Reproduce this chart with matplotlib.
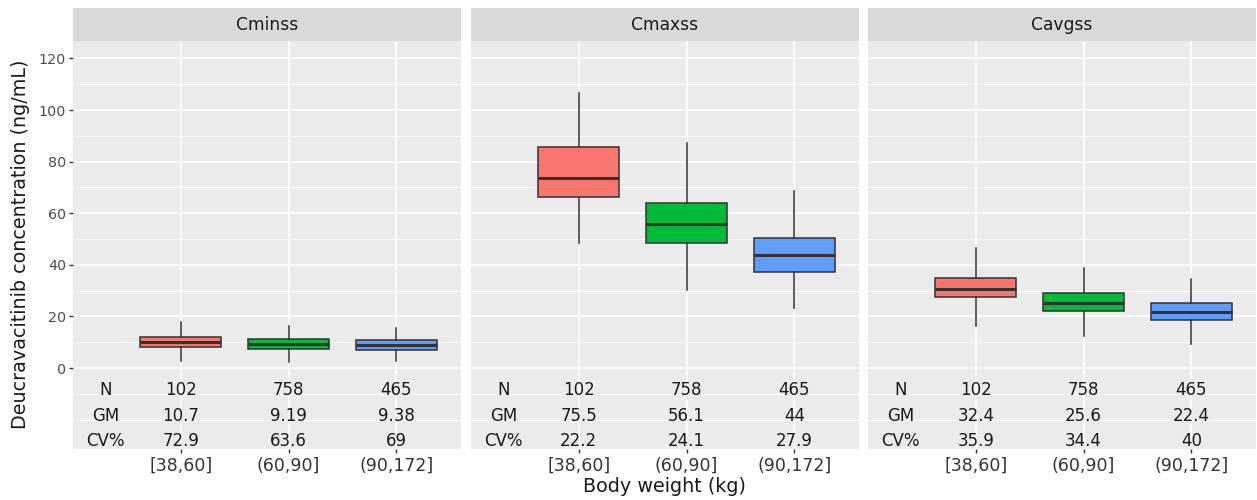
import matplotlib.pyplot as plt
import numpy as np

# body weight groups and the three exposure metrics
groups = ["[38,60]", "(60,90]", "(90,172]"]
metrics = ["Cminss", "Cmaxss", "Cavgss"]
fills = ["#F8766D", "#00BA38", "#619CFF"]

# box statistics per group: lower whisker, q1, median, q3, upper whisker
cminss_box = [[2.8, 8.3, 10.1, 12.1, 17.9],
              [2.4, 7.4, 9.2, 11.2, 16.3],
              [2.7, 7.1, 8.9, 10.9, 15.6]]
cmaxss_box = [[48.6, 66.4, 73.5, 85.5, 106.5],
              [30.2, 48.6, 55.9, 64.1, 87.1],
              [23.1, 37.3, 43.9, 50.3, 68.7]]
cavgss_box = [[16.4, 27.5, 30.6, 35.1, 46.4],
              [12.4, 22.0, 25.2, 29.0, 38.9],
              [9.3, 18.6, 21.7, 25.1, 34.5]]

# summary table under each panel
n_obs = [102, 758, 465]
cminss_gm = [10.7, 9.19, 9.38]
cmaxss_gm = [75.5, 56.1, 44]
cavgss_gm = [32.4, 25.6, 22.4]
cminss_cv = [72.9, 63.6, 69]
cmaxss_cv = [22.2, 24.1, 27.9]
cavgss_cv = [35.9, 34.4, 40]

boxes = [cminss_box, cmaxss_box, cavgss_box]
gms = [cminss_gm, cmaxss_gm, cavgss_gm]
cvs = [cminss_cv, cmaxss_cv, cavgss_cv]

W, H = 1257, 500
fig = plt.figure(figsize=(W / 100, H / 100), dpi=100)

panel_left = [73, 471, 868]
panel_w = 388
p_top, p_bot = 40.7, 449.3
s_top = 8.3

edge = "#333333"
pos = np.arange(1, len(groups) + 1)

for k, metric in enumerate(metrics):
    x0 = panel_left[k] / W
    ax = fig.add_axes([x0, 1 - p_bot / H, panel_w / W, (p_bot - p_top) / H])
    ax.set_facecolor("#EBEBEB")
    for s in ax.spines.values():
        s.set_visible(False)

    ax.set_xlim(0, 3.6)
    ax.set_ylim(-31.5, 126.9)

    # grid: white major/minor lines like ggplot's grey theme
    for y in range(0, 121, 20):
        ax.axhline(y, color="white", lw=1.1, zorder=0)
    for y in [-20, -10, 10, 30, 50, 70, 90, 110]:
        ax.axhline(y, color="white", lw=0.6, zorder=0)
    for x in pos:
        ax.axvline(x, color="white", lw=1.1, zorder=0)

    stats = []
    for b in boxes[k]:
        stats.append({"whislo": b[0], "q1": b[1], "med": b[2], "q3": b[3], "whishi": b[4]})
    bp = ax.bxp(stats, positions=pos, widths=0.75, patch_artist=True,
                showfliers=False, showcaps=False, manage_ticks=False,
                boxprops=dict(edgecolor=edge, linewidth=1.1),
                whiskerprops=dict(color=edge, linewidth=1.1),
                medianprops=dict(color=edge, linewidth=2.2, solid_capstyle="butt"))
    for patch, c in zip(bp["boxes"], fills):
        patch.set_facecolor(c)
    for art in bp["boxes"] + bp["whiskers"] + bp["medians"]:
        art.set_zorder(3)

    # N / GM / CV% rows
    rows = [("N", n_obs, -8.5), ("GM", gms[k], -18.4), ("CV%", cvs[k], -28.4)]
    for label, vals, y in rows:
        ax.text(0.3, y, label, ha="center", va="center", fontsize=12, color="#1a1a1a")
        for x, v in zip(pos, vals):
            ax.text(x, y, f"{v:g}", ha="center", va="center", fontsize=12, color="#1a1a1a")

    ax.set_xticks(pos)
    ax.set_xticklabels(groups, fontsize=12.5, color="#333333")
    ax.tick_params(axis="x", length=3, width=1, color="#333333", pad=2)
    if k == 0:
        ax.set_yticks(range(0, 121, 20))
        ax.tick_params(axis="y", labelsize=10.3, labelcolor="#4D4D4D", length=3,
                       width=1, color="#333333", pad=2)
    else:
        ax.set_yticks([])

    # facet strip
    sax = fig.add_axes([x0, 1 - p_top / H, panel_w / W, (p_top - s_top) / H])
    sax.set_facecolor("#D9D9D9")
    sax.set_xticks([])
    sax.set_yticks([])
    for s in sax.spines.values():
        s.set_visible(False)
    sax.text(0.5, 0.5, metric, ha="center", va="center", fontsize=12.3,
             color="#1A1A1A", transform=sax.transAxes)

fig.text((73 + 1256) / 2 / W, 1 - 486 / H, "Body weight (kg)", ha="center", va="center",
         fontsize=13.8, color="#1a1a1a")
fig.text(21 / W, 1 - 244 / H, "Deucravacitinib concentration (ng/mL)", ha="center",
         va="center", rotation=90, fontsize=13.8, color="#1a1a1a")

fig.savefig("out.png", dpi=100)
